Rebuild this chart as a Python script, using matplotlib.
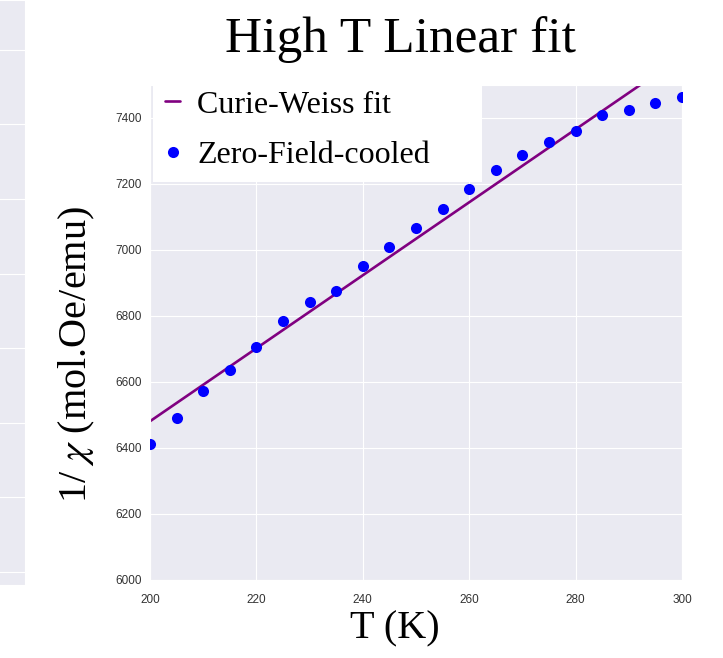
import matplotlib
matplotlib.use("Agg")
import matplotlib.pyplot as plt
import seaborn as sns

# zero-field-cooled inverse susceptibility
T_zfc = [200, 205, 210, 215, 220, 225, 230, 235, 240, 245, 250,
         255, 260, 265, 270, 275, 280, 285, 290, 295, 300]
inv_chi_zfc = [6411, 6490, 6572, 6636, 6706, 6785, 6843, 6877, 6953, 7008, 7068,
               7123, 7184, 7242, 7288, 7327, 7361, 7409, 7425, 7446, 7464]

# Curie-Weiss fit line end points
T_fit = [200, 300]
inv_chi_fit = [6481, 7587]

yticks = [6000, 6200, 6400, 6600, 6800, 7000, 7200, 7400]
xticks = [200, 220, 240, 260, 280, 300]

sns.set_style("darkgrid")
plt.rcParams['font.family'] = ['Liberation Serif', 'DejaVu Serif']
plt.rcParams['mathtext.fontset'] = 'stix'
plt.rcParams['text.color'] = 'black'

W, H = 723, 658
fig = plt.figure(figsize=(W / 100, H / 100), dpi=100)

# strip of the neighbouring panel on the left edge
side = fig.add_axes([-0.2, 1 - 585 / H, 0.2 + 25 / W, 585 / H])
side.set_ylim(-0.174, 585 / 74.6 - 0.174)
side.set_yticks(range(8))
side.set_xticks([0.5])
side.tick_params(labelleft=False, labelbottom=False, length=0)

ax = fig.add_axes([150 / W, 1 - 580 / H, 532 / W, 495 / H])
ax.plot(T_fit, inv_chi_fit, color='purple', lw=1.9, label='Curie-Weiss fit', zorder=2)
ax.plot(T_zfc, inv_chi_zfc, 'o', color='blue', ms=8, mec='none',
        label='Zero-Field-cooled', zorder=3)

ax.set_xlim(200, 300)
ax.set_ylim(6000, 7500)
ax.set_xticks(xticks)
ax.set_yticks(yticks)
for lab in ax.get_xticklabels() + ax.get_yticklabels():
    lab.set_family(['Liberation Sans', 'DejaVu Sans'])
    lab.set_fontsize(8.5)
    lab.set_color('#333333')
ax.tick_params(axis='y', length=0, pad=6)
ax.tick_params(axis='x', length=0, pad=10)

# white legend box, upper edge slightly above the axes
leg = ax.legend(loc='upper left', bbox_to_anchor=(0.006, 0.814, 0.6185, 0.2),
                mode='expand', fontsize=23,
                frameon=True, fancybox=False, framealpha=1, facecolor='white',
                edgecolor='white', handlelength=0.45, handletextpad=0.55,
                borderpad=0.38, labelspacing=0.65, borderaxespad=0)
leg.get_frame().set_linewidth(0)

fig.text(400 / W, 1 - 40 / H, 'High T Linear fit', ha='center', va='center', fontsize=37)
fig.text(77 / W, 1 - 355 / H, r'1/ $\chi$ (mol.Oe/emu)', ha='center', va='center',
         rotation=90, fontsize=29)
fig.text(395 / W, 1 - 629 / H, 'T (K)', ha='center', va='center', fontsize=29)

fig.savefig('out.png', dpi=100)
